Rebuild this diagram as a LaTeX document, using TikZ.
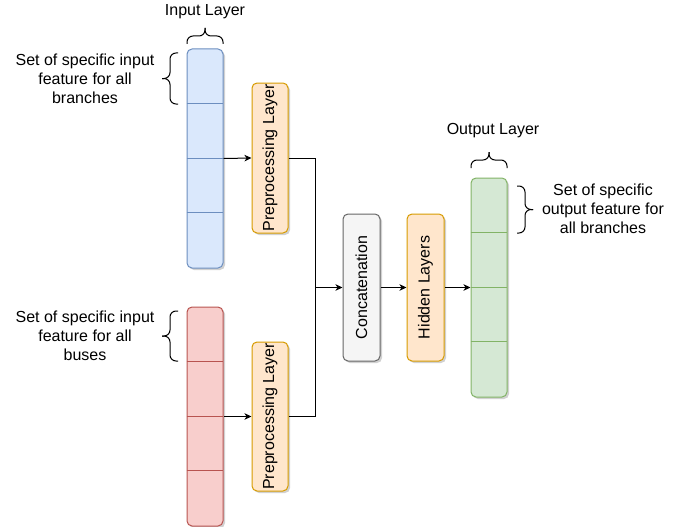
\documentclass[tikz,border=0pt]{standalone}
\usepackage{fontspec}
\setmainfont{Liberation Sans}
\usetikzlibrary{arrows.meta,shadows}
\definecolor{bluefill}{HTML}{DAE8FC}
\definecolor{bluestroke}{HTML}{6C8EBF}
\definecolor{redfill}{HTML}{F8CECC}
\definecolor{redstroke}{HTML}{B85450}
\definecolor{orfill}{HTML}{FFE6CC}
\definecolor{orstroke}{HTML}{D79B00}
\definecolor{grfill}{HTML}{F5F5F5}
\definecolor{grstroke}{HTML}{666666}
\definecolor{gnfill}{HTML}{D5E8D4}
\definecolor{gnstroke}{HTML}{82B366}
\begin{document}
\begin{tikzpicture}[x=1pt,y=-1pt,
  every node/.style={font=\fontsize{16}{19.2}\selectfont, text=black},
  box/.style={draw, rounded corners=5pt, line width=1pt, inner sep=0pt,
    drop shadow={shadow xshift=2pt,shadow yshift=-2pt,opacity=0.18,fill=black}},
  column/.style={box, minimum width=36pt, minimum height=219pt},
  layerbox/.style={box, minimum width=36pt},
  bluecol/.style={column, fill=bluefill, draw=bluestroke},
  redcol/.style={column, fill=redfill, draw=redstroke},
  greencol/.style={column, fill=gnfill, draw=gnstroke},
  orbox/.style={layerbox, fill=orfill, draw=orstroke},
  graybox/.style={layerbox, fill=grfill, draw=grstroke, minimum width=37pt},
  conn/.style={draw=black, line width=1pt},
  arr/.style={conn, -{Stealth[length=7pt,width=6.5pt,inset=2pt]}},
  bracestyle/.style={draw=black, line width=1pt, rounded corners=6pt},
  labeltext/.style={align=center}
]
\useasboundingbox (0,0) rectangle (693,527);

% columns
\node[bluecol] (blue) at (205,158.5) {};
\node[redcol] (red) at (205,416.5) {};
\node[greencol] (green) at (489,287.5) {};
\foreach \k in {1,2,3} {
  \draw[bluestroke, line width=1pt] (blue.north west) ++(0,54.75*\k) -- ++(36,0);
  \draw[redstroke, line width=1pt] (red.north west) ++(0,54.75*\k) -- ++(36,0);
  \draw[gnstroke, line width=1pt] (green.north west) ++(0,54.75*\k) -- ++(36,0);
}

% layer boxes
\node[orbox, minimum height=150pt, label={[rotate=90]center:Preprocessing Layer}] (pre1) at (270,158) {};
\node[orbox, minimum height=149pt, label={[rotate=90]center:Preprocessing Layer}] (pre2) at (270,416.5) {};
\node[graybox, minimum height=147pt, label={[rotate=90]center:Concatenation}] (concat) at (361.5,287.5) {};
\node[orbox, minimum width=37pt, minimum height=147pt, label={[rotate=90]center:Hidden Layers}] (hidden) at (425.5,287.5) {};

% connectors
\coordinate (join) at (315,287.5);
\draw[arr] (blue.east) -- (pre1.west);
\draw[arr] (red.east) -- (pre2.west);
\draw[conn] (pre1.east) -| (join);
\draw[conn] (pre2.east) -| (join);
\draw[arr] (join) -- (concat.west);
\draw[arr] (concat.east) -- (hidden.west);
\draw[arr] (hidden.east) -- (green.west);

% labels
\node (inlbl) at (205,12) {Input Layer};
\node (outlbl) at (493,131) {Output Layer};
\node[labeltext] (t1) at (85,79) {Set of specific input\\feature for all\\branches};
\node[labeltext] (t2) at (85,336) {Set of specific input\\feature for all\\buses};
\node[labeltext] (t3) at (603,209) {Set of specific\\output feature for\\all branches};

% braces
% top of input column
\draw[bracestyle] (187,44) -- (187,36) -- (205,36) -- (205,28);
\draw[bracestyle] (223,44) -- (223,36) -- (205,36) -- (205,28);
% top of output column
\draw[bracestyle] (471,168) -- (471,160) -- (489,160) -- (489,152);
\draw[bracestyle] (507,168) -- (507,160) -- (489,160) -- (489,152);
% left brace 1
\draw[bracestyle] (178,53) -- (170,53) -- (170,78.5) -- (162,78.5);
\draw[bracestyle] (178,104) -- (170,104) -- (170,78.5) -- (162,78.5);
% left brace 2
\draw[bracestyle] (178,311) -- (170,311) -- (170,336) -- (162,336);
\draw[bracestyle] (178,361) -- (170,361) -- (170,336) -- (162,336);
% right brace
\draw[bracestyle] (517,186) -- (525,186) -- (525,209.5) -- (533,209.5);
\draw[bracestyle] (517,233) -- (525,233) -- (525,209.5) -- (533,209.5);
\end{tikzpicture}
\end{document}
